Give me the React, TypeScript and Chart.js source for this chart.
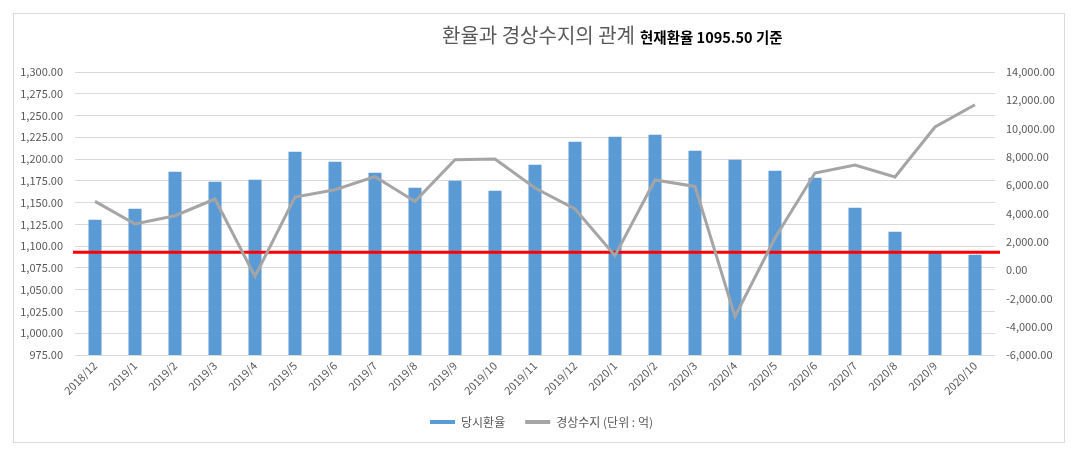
import React, { useEffect, useRef } from "react";
import { Chart, registerables } from "chart.js";

Chart.register(...registerables);

const categories = [
  "2018/12", "2019/1", "2019/2", "2019/3", "2019/4", "2019/5", "2019/6", "2019/7",
  "2019/8", "2019/9", "2019/10", "2019/11", "2019/12", "2020/1", "2020/2", "2020/3",
  "2020/4", "2020/5", "2020/6", "2020/7", "2020/8", "2020/9", "2020/10",
];

const exchangeRates = [
  1130.4, 1143.0, 1185.5, 1174.0, 1176.3, 1208.5, 1197.0, 1184.4,
  1167.0, 1175.2, 1163.7, 1193.5, 1220.0, 1225.7, 1228.0, 1209.6,
  1199.3, 1186.7, 1178.6, 1144.2, 1116.6, 1093.0, 1090.2,
];

const currentAccount = [
  4855, 3258, 3845, 5025, -445, 5166, 5682, 6601,
  4855, 7802, 7852, 5802, 4318, 1018, 6367, 5915,
  -3272, 2269, 6862, 7428, 6580, 10113, 11689,
];

const referenceRate = 1093;

const leftAxisMin = 975;
const leftAxisMax = 1300;
const leftAxisStep = 25;
const rightAxisMin = -6000;
const rightAxisMax = 14000;
const rightAxisStep = 2000;

const seriesLabels = ["당시환율", "경상수지 (단위 : 억)"];
const titleMain = "환율과 경상수지의 관계";
const titleSub = "현재환율 1095.50 기준";

const FONT = "'Noto Sans CJK KR', 'Noto Sans', sans-serif";
const TEXT_GRAY = "#595959";

const fmt = (v: number) =>
  Number(v).toLocaleString("en-US", { minimumFractionDigits: 2, maximumFractionDigits: 2 });

const refLinePlugin = {
  id: "refLine",
  afterDatasetDraw(chart: any, args: any) {
    if (args.index !== 0) return;
    const y = chart.scales.y.getPixelForValue(referenceRate);
    const { left, right } = chart.chartArea;
    const ctx = chart.ctx;
    ctx.save();
    ctx.strokeStyle = "#FF0000";
    ctx.lineWidth = 3;
    ctx.beginPath();
    ctx.moveTo(left - 2, y);
    ctx.lineTo(right + 5, y);
    ctx.stroke();
    ctx.restore();
  },
};

export default function App() {
  const canvasRef = useRef<HTMLCanvasElement | null>(null);

  useEffect(() => {
    if (!canvasRef.current) return;
    const chart = new Chart(canvasRef.current, {
      type: "bar",
      data: {
        labels: categories,
        datasets: [
          {
            type: "bar",
            label: seriesLabels[0],
            data: exchangeRates,
            backgroundColor: "#5B9BD5",
            borderWidth: 0,
            yAxisID: "y",
            order: 1,
            categoryPercentage: 1,
            barPercentage: 0.325,
          },
          {
            type: "line",
            label: seriesLabels[1],
            data: currentAccount,
            borderColor: "#A5A5A5",
            backgroundColor: "#A5A5A5",
            borderWidth: 3,
            pointRadius: 0,
            tension: 0,
            yAxisID: "y1",
            order: 0,
          },
        ],
      },
      options: {
        animation: false,
        responsive: false,
        maintainAspectRatio: false,
        layout: { padding: { top: 72, bottom: 18, left: 0, right: 0 } },
        plugins: {
          title: { display: false },
          tooltip: { enabled: false },
          legend: {
            display: true,
            position: "bottom",
            labels: {
              color: TEXT_GRAY,
              font: { family: FONT, size: 12 },
              boxWidth: 25,
              boxHeight: 4,
              padding: 20,
              generateLabels: (c: any) =>
                c.data.datasets.map((ds: any, i: number) => ({
                  text: ds.label,
                  fillStyle: i === 0 ? "#5B9BD5" : "#A5A5A5",
                  strokeStyle: "transparent",
                  lineWidth: 0,
                  hidden: false,
                  datasetIndex: i,
                  fontColor: TEXT_GRAY,
                })),
            },
          },
        },
        scales: {
          x: {
            grid: { display: false, drawTicks: false },
            border: { display: false },
            ticks: {
              color: TEXT_GRAY,
              font: { family: FONT, size: 11 },
              minRotation: 45,
              maxRotation: 45,
              autoSkip: false,
              padding: 4,
            },
            afterFit: (s: any) => {
              s.height = 41;
            },
          },
          y: {
            position: "left",
            min: leftAxisMin,
            max: leftAxisMax,
            grid: { color: "#D9D9D9", lineWidth: 1, drawTicks: false },
            border: { display: false },
            ticks: {
              stepSize: leftAxisStep,
              color: TEXT_GRAY,
              font: { family: FONT, size: 11 },
              padding: 12,
              callback: (v: any) => fmt(v),
            },
            afterFit: (s: any) => {
              s.width = 75;
            },
          },
          y1: {
            position: "right",
            min: rightAxisMin,
            max: rightAxisMax,
            grid: { display: false, drawTicks: false },
            border: { display: false },
            ticks: {
              stepSize: rightAxisStep,
              color: TEXT_GRAY,
              font: { family: FONT, size: 11 },
              padding: 11,
              callback: (v: any) => fmt(v),
            },
            afterFit: (s: any) => {
              s.width = 88;
            },
          },
        },
      },
      plugins: [refLinePlugin],
    } as any);
    return () => chart.destroy();
  }, []);

  return (
    <div style={{ position: "absolute", left: 0, top: 0, width: 1083, height: 456, background: "#fff" }}>
      <div
        style={{
          position: "absolute",
          left: 13,
          top: 13,
          width: 1050,
          height: 428,
          border: "1px solid #D9D9D9",
          boxSizing: "content-box",
        }}
      />
      <canvas ref={canvasRef} width={1083} height={456} style={{ position: "absolute", left: 0, top: 0 }} />
      <div
        style={{
          position: "absolute",
          left: 442,
          top: 21,
          height: 28,
          lineHeight: "28px",
          whiteSpace: "nowrap",
          fontFamily: FONT,
        }}
      >
        <span style={{ fontSize: 20, color: TEXT_GRAY }}>{titleMain}</span>
        <span style={{ fontSize: 14.5, fontWeight: 700, color: "#000", marginLeft: 5 }}>{titleSub}</span>
      </div>
    </div>
  );
}
